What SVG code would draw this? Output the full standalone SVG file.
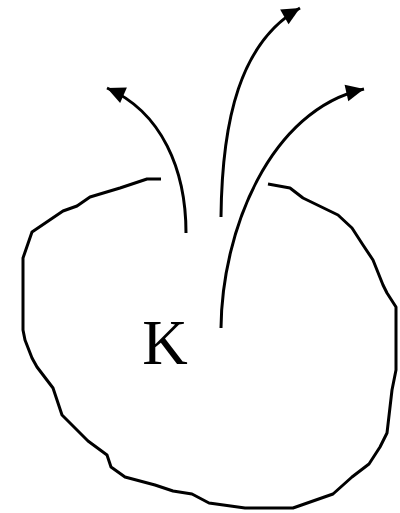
<svg xmlns="http://www.w3.org/2000/svg" width="400" height="513" viewBox="0 0 400 513">
<style>
.ln{fill:none;stroke:#000;stroke-width:3;stroke-linejoin:round;stroke-linecap:butt}
.lbl{font-family:"Liberation Serif","Times New Roman",serif;font-size:63px;fill:#000}
</style>
<defs>
<marker id="ah" markerUnits="userSpaceOnUse" markerWidth="22" markerHeight="20" refX="18" refY="8.5" orient="auto" overflow="visible">
<polygon points="0,0 18,8.5 0,17" fill="#000"/>
</marker>
</defs>
<rect width="400" height="513" fill="#fff"/>
<g id="region">
<polyline class="ln" points="161,179 147,179 120,188 90,197 77,206 63,211 32,232 23,258 23,330 25,340 32,358 37,367 53,388 62,415 88,441 107,455 111,467 125,477 155,485 173,491 192,494 209,503 245,508 293,508 333,494 352,477 369,464 380,447 387,433 392,390 396,370 396,340 396,307 387,293 383,285 373,260 363,245 352,228 338,215 303,198 290,188 268,184"/>
</g>
<g id="label">
<text class="lbl" x="165" y="364" text-anchor="middle">K</text>
</g>
<g id="connectors">
<path class="ln" d="M186,233 C186,170 162,112 107,88" marker-end="url(#ah)"/>
<path class="ln" d="M221,217 C222,120 240,42 300,8" marker-end="url(#ah)"/>
<path class="ln" d="M221,328 C222,230 270,110 364,89" marker-end="url(#ah)"/>
</g>
</svg>
